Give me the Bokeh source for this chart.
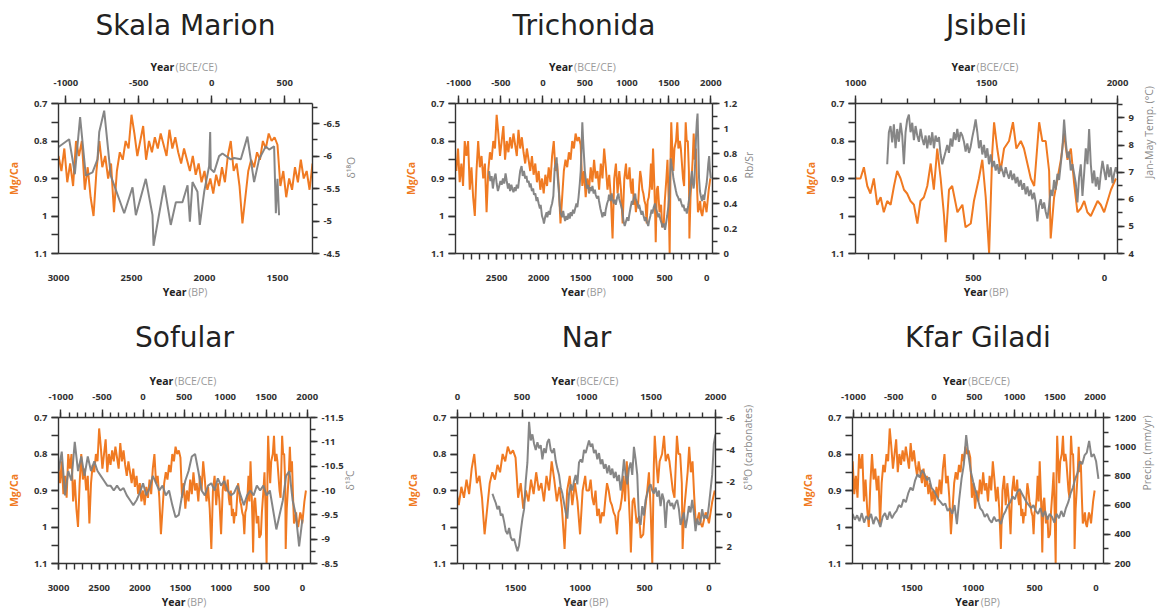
import math
import numpy as np
from bokeh.plotting import figure
from bokeh.models import Range1d, LinearAxis, FixedTicker, CustomJSTickFormatter, Title
from bokeh.layouts import column, row
from bokeh.embed import file_html
from bokeh.resources import INLINE

ORANGE = "#F07A22"
GRAY = "#7F7F7F"

# ---------------- Mg/Ca (orange) record, shared by all panels (years BP) ----------------
MGCA_BP = [3000, 2980, 2960, 2940, 2920, 2900, 2880, 2860, 2840, 2820, 2800, 2780, 2760, 2740, 2720,
           2700, 2680, 2660, 2640, 2620, 2600, 2580, 2560, 2540, 2520, 2500, 2480, 2460, 2440, 2420,
           2400, 2380, 2360, 2340, 2320, 2300, 2280, 2260, 2240, 2220, 2200, 2180, 2160, 2140, 2120,
           2100, 2080, 2060, 2040, 2020, 2000, 1980, 1960, 1940, 1920, 1900, 1880, 1860, 1840, 1820,
           1800, 1780, 1760, 1740, 1720, 1700, 1680, 1660, 1640, 1620, 1600, 1580, 1560, 1540, 1520,
           1500, 1480, 1460, 1440, 1420, 1400, 1380, 1360, 1340, 1320, 1300, 1280, 1260, 1240, 1220,
           1200, 1180, 1160, 1140, 1120, 1100, 1080, 1060, 1040, 1020, 1000, 980, 960,
           950, 931, 918, 905, 893, 880, 867, 854, 842, 829, 816, 803, 791, 778, 765, 753, 740, 727,
           714, 702, 689, 676, 663, 651, 638, 625, 612, 606, 593, 581, 561, 542, 530, 510, 498, 479,
           466, 453, 440, 428, 421, 409, 396, 383, 364, 349, 336, 319, 307, 294, 281, 268, 249, 237,
           224, 211, 205, 192, 179, 166, 154, 141, 128, 116, 103, 90, 77, 65, 52, 39, 26, 14, 1,
           -12, -25, -44]
MGCA = [0.84, 0.88, 0.82, 0.91, 0.86, 0.92, 0.80, 0.84, 0.80, 0.93, 0.87, 0.95, 1.00, 0.88, 0.80,
        0.87, 0.84, 0.90, 0.86, 0.99, 0.88, 0.83, 0.85, 0.80, 0.82, 0.73, 0.78, 0.84, 0.80, 0.76,
        0.85, 0.80, 0.83, 0.79, 0.82, 0.78, 0.81, 0.84, 0.77, 0.82, 0.79, 0.83, 0.86, 0.82, 0.85,
        0.88, 0.84, 0.89, 0.86, 0.91, 0.88, 0.93, 0.90, 0.94, 0.89, 0.92, 0.87, 0.91, 0.84, 0.80,
        0.88, 0.86, 0.92, 1.02, 0.95, 0.88, 0.85, 0.87, 0.83, 0.85, 0.80, 0.82, 0.78, 0.80, 0.79,
        0.81, 0.92, 0.88, 0.95, 0.90, 0.93, 0.87, 0.91, 0.85, 0.90, 0.88, 0.93, 0.86, 0.90, 0.82,
        0.87, 0.93, 0.89, 0.95, 1.06, 0.90, 0.86, 0.94, 0.88, 0.93, 1.02, 0.90, 0.86,
        0.90, 0.90, 0.87, 0.92, 0.94, 0.90, 0.97, 0.95, 0.99, 0.96, 0.97, 0.92, 0.88, 0.90, 0.93, 0.94, 0.96, 0.97,
        1.02, 0.96, 0.95, 0.92, 0.86, 0.93, 0.82, 0.90, 1.00, 1.07, 0.93, 0.92, 0.99, 0.97, 1.03, 1.02, 0.96, 0.90,
        0.85, 0.95, 1.10, 0.83, 0.75, 0.82, 0.88, 0.82, 0.80, 0.75, 0.82, 0.80, 0.82, 0.86, 0.90, 0.92, 0.75, 0.80,
        0.80, 0.88, 1.06, 0.95, 0.90, 0.85, 0.78, 0.85, 0.82, 0.91, 0.99, 0.98, 0.96, 0.99, 1.00, 0.98, 0.96, 0.97, 0.99,
        0.96, 0.93, 0.90]

# ---------------- Skala Marion delta18O ----------------
SKALA_BP = [3060, 3000, 2927, 2904, 2888, 2852, 2813, 2767, 2733, 2721, 2687, 2642, 2550, 2493, 2470,
            2402, 2356, 2349, 2276, 2231, 2196, 2151, 2116, 2100, 2082, 2048, 2032, 2002, 1968, 1961,
            1957, 1934, 1900, 1877, 1820, 1797, 1751, 1706, 1660, 1626, 1580, 1557, 1523, 1511, 1500, 1489]
SKALA_D18O = [-6.10, -6.14, -6.26, -5.95, -5.72, -6.60, -5.70, -5.75, -5.95, -6.37, -6.70, -5.70, -5.12,
              -5.52, -5.09, -5.65, -5.09, -4.62, -5.55, -4.94, -5.29, -5.29, -5.55, -4.99, -5.60, -5.45,
              -4.94, -5.45, -5.85, -6.37, -5.80, -5.75, -6.00, -6.04, -5.95, -5.97, -5.95, -6.30, -5.60,
              -5.95, -6.15, -6.10, -6.15, -5.12, -5.65, -5.09]

# ---------------- Trichonida Rb/Sr ----------------
TRICH_BP = [2590, 2575, 2560, 2545, 2530, 2513, 2500, 2485, 2473, 2455, 2440, 2425, 2410, 2394, 2380,
            2365, 2354, 2340, 2325, 2314, 2300, 2285, 2274, 2260, 2245, 2235, 2220, 2203, 2190, 2175,
            2160, 2145, 2135, 2120, 2105, 2096, 2080, 2065, 2056, 2040, 2025, 2016, 2000, 1985, 1976,
            1960, 1945, 1937, 1920, 1905, 1897, 1880, 1865, 1857, 1840, 1825, 1815, 1809, 1795, 1786,
            1775, 1758, 1748, 1738, 1720, 1708, 1698, 1685, 1670, 1658, 1645, 1630, 1619, 1605, 1590,
            1579, 1565, 1550, 1539, 1525, 1510, 1499, 1490, 1480, 1470, 1460, 1450, 1440, 1425, 1410,
            1400, 1385, 1370, 1360, 1345, 1330, 1321, 1305, 1290, 1281, 1265, 1250, 1241, 1225, 1210,
            1201, 1185, 1170, 1162, 1145, 1130, 1122, 1105, 1090, 1082, 1065, 1050, 1042, 1025, 1010,
            1003, 990, 975, 963, 945, 930, 923, 905, 890, 884, 865, 850, 844, 825, 810,
            804, 790, 775, 764, 750, 735, 725, 710, 695, 685, 670, 655, 645, 630, 615,
            605, 590, 575, 566, 550, 535, 526, 510, 495, 486, 470, 455, 446, 435, 427,
            415, 405, 395, 380, 365, 355, 340, 325, 315, 300, 285, 276, 260, 245, 236,
            220, 205, 196, 185, 175, 168, 155, 148, 135, 125, 117, 108, 100, 90, 80,
            69, 55, 40, 29, 15, 0, -10, -20, -30, -40, -50]
TRICH_RBSR = [0.66, 0.58, 0.62, 0.52, 0.60, 0.64, 0.56, 0.50, 0.53, 0.58, 0.55, 0.60, 0.56, 0.64, 0.58,
              0.52, 0.56, 0.50, 0.55, 0.52, 0.49, 0.53, 0.50, 0.55, 0.52, 0.58, 0.66, 0.70, 0.62, 0.66,
              0.60, 0.62, 0.57, 0.58, 0.53, 0.56, 0.50, 0.52, 0.47, 0.48, 0.42, 0.45, 0.40, 0.36, 0.39,
              0.30, 0.27, 0.24, 0.30, 0.33, 0.29, 0.34, 0.31, 0.36, 0.40, 0.46, 0.60, 0.68, 0.72, 0.77,
              0.62, 0.48, 0.38, 0.32, 0.29, 0.34, 0.30, 0.26, 0.30, 0.27, 0.32, 0.28, 0.33, 0.30, 0.35,
              0.32, 0.36, 0.40, 0.37, 0.45, 0.56, 0.66, 0.82, 1.05, 0.90, 0.78, 0.66, 0.60, 0.52, 0.55,
              0.48, 0.53, 0.50, 0.54, 0.48, 0.51, 0.47, 0.44, 0.46, 0.42, 0.36, 0.32, 0.29, 0.33, 0.30,
              0.35, 0.40, 0.43, 0.47, 0.42, 0.48, 0.44, 0.40, 0.43, 0.39, 0.45, 0.48, 0.44, 0.40, 0.36,
              0.34, 0.26, 0.22, 0.25, 0.29, 0.26, 0.30, 0.37, 0.42, 0.39, 0.45, 0.48, 0.44, 0.40, 0.36,
              0.39, 0.35, 0.31, 0.34, 0.30, 0.26, 0.29, 0.25, 0.22, 0.26, 0.30, 0.35, 0.32, 0.37, 0.40,
              0.36, 0.33, 0.29, 0.32, 0.27, 0.24, 0.21, 0.24, 0.19, 0.23, 0.30, 0.38, 0.45, 0.62, 0.76,
              0.70, 0.66, 0.60, 0.55, 0.50, 0.47, 0.45, 0.42, 0.44, 0.40, 0.37, 0.39, 0.34, 0.36, 0.32,
              0.38, 0.45, 0.50, 0.60, 0.66, 0.58, 0.52, 0.56, 0.75, 0.95, 1.05, 1.12, 0.90, 0.60, 0.50,
              0.46, 0.42, 0.47, 0.43, 0.50, 0.56, 0.63, 0.72, 0.78, 0.66, 0.60]

# ---------------- Jsibeli Jan-May temperature (evenly sampled, 829 -> -50 BP) ----------------
JSIB_START, JSIB_END = 829, -50
JSIB_TEMP = [7.29, 8.47, 8.70, 8.10, 8.76, 7.88, 8.59, 8.12, 8.82, 8.35, 7.29, 8.47, 8.94, 9.12, 8.47,
             8.82, 8.18, 8.70, 8.35, 8.12, 8.59, 8.24, 8.00, 8.35, 7.88, 8.35, 8.00, 8.47, 7.88, 8.35,
             8.12, 8.29, 7.65, 7.29, 7.53, 7.76, 8.00, 7.71, 8.24, 7.94, 8.47, 8.18, 8.59, 8.12, 8.47,
             8.35, 8.12, 7.76, 8.06, 7.71, 7.94, 8.29, 8.59, 8.94, 8.47, 7.88, 8.18, 7.65, 8.00, 7.53,
             7.88, 7.29, 7.65, 7.18, 7.41, 7.06, 7.29, 6.94, 7.24, 7.06, 6.82, 7.18, 6.94, 6.76, 7.06,
             6.71, 6.94, 6.59, 6.82, 6.47, 6.71, 6.35, 6.59, 6.18, 6.47, 6.12, 6.35, 6.00, 6.24, 5.88,
             5.18, 5.76, 6.00, 5.65, 5.88, 5.53, 5.29, 5.76, 6.35, 6.12, 6.71, 6.35, 6.94, 6.71, 7.29,
             7.88, 8.94, 8.12, 7.53, 7.76, 7.06, 7.29, 6.94, 6.59, 5.88, 6.82, 7.29, 6.12, 6.94, 7.88,
             7.29, 8.59, 7.29, 6.59, 7.06, 6.47, 6.82, 6.35, 6.94, 7.41, 7.06, 6.71, 7.29, 6.82, 7.18,
             6.59, 6.94, 7.18, 6.94]

# ---------------- Sofular delta13C (every 40 yr, 3000 -> 0 BP) ----------------
SOF_START, SOF_END = 3000, 0
SOF_D13C = [-10.4, -10.8, -9.9, -10.4, -10.2, -11.0, -10.4, -10.7, -10.3, -10.7, -10.4, -10.6, -10.4,
            -10.3, -10.2, -10.1, -10.1, -10.0, -10.1, -10.0, -10.05, -9.9, -9.8, -9.7, -9.8, -9.95,
            -10.15, -9.9, -10.05, -10.3, -10.15, -10.0, -10.1, -9.9, -10.0, -9.7, -9.45, -9.5, -9.9,
            -10.2, -10.4, -10.7, -10.75, -10.4, -10.0, -9.9, -10.1, -10.15, -10.0, -10.25, -10.1,
            -10.2, -10.0, -9.9, -9.95, -10.1, -9.9, -9.7, -9.9, -10.0, -9.9, -10.1, -10.0, -10.1,
            -9.9, -10.0, -9.6, -9.2, -9.5, -9.8, -10.3, -10.4, -9.8, -9.5, -8.85, -9.4]

# ---------------- Nar delta18O (evenly sampled, 1679 -> -50 BP) ----------------
NAR_START, NAR_END = 1679, -50
NAR_D18O = [-1.30, -1.00, -0.73, -0.35, -0.54, 0.04, -0.06, 0.42, 1.00, 1.19, 0.81, 1.38, 1.58, 1.48,
            1.87, 2.25, 1.87, 1.00, 0.23, -0.35, -2.08, -3.23, -5.73, -4.58, -4.96, -4.38, -4.00,
            -4.48, -4.10, -4.29, -3.42, -4.10, -3.81, -4.48, -4.67, -4.00, -3.81, -4.10, -3.33,
            -2.85, -2.46, -1.69, -1.31, -0.73, -0.15, 0.23, -1.31, -1.88, -1.50, -2.08, -2.46,
            -1.88, -3.23, -3.42, -3.23, -4.00, -3.81, -4.19, -4.58, -4.19, -4.38, -3.81, -4.00,
            -3.42, -3.81, -3.13, -3.42, -2.85, -3.13, -2.56, -3.04, -2.46, -2.85, -2.27, -2.65,
            -2.08, -2.46, -1.50, -2.27, -3.42, -2.46, -1.88, -2.85, -3.23, -2.46, -4.19, -3.42,
            -2.46, 0.23, 0.62, -0.54, 0.04, -0.92, -1.31, -1.69, -1.88, -1.50, -1.31, -1.69, -1.12,
            -1.50, -0.54, -1.31, -0.92, 0.81, -0.73, -0.92, -0.54, -0.73, -0.35, -0.73, -0.92,
            -0.35, 0.62, 0.23, -0.15, 0.81, 0.23, -0.54, -0.15, -0.92, -0.15, 1.00, 0.23, 0.62,
            0.42, -0.35, 0.23, 0.04, 0.23, -0.54, -1.50, -2.46, -4.38, -4.96]

# ---------------- Kfar Giladi precipitation (evenly sampled, 2962 -> -91 BP) ----------------
KFAR_START, KFAR_END = 2962, -91
KFAR_PRECIP = [540, 500, 530, 490, 545, 480, 525, 500, 540, 470, 520, 495, 450, 520, 545, 500, 555,
               510, 540, 560, 600, 585, 640, 620, 680, 720, 700, 770, 810, 790, 840, 815, 770, 790,
               720, 700, 670, 640, 620, 600, 610, 560, 580, 540, 600, 470, 640, 780, 880, 1080, 940,
               830, 760, 700, 640, 580, 560, 520, 540, 500, 480, 520, 490, 500, 470, 530, 560, 600,
               620, 660, 640, 690, 710, 680, 650, 620, 600, 580, 600, 560, 540, 580, 520, 560, 500,
               540, 520, 480, 540, 510, 560, 520, 580, 620, 680, 720, 780, 820, 900, 880, 940, 960,
               1040, 930, 950, 900, 780]

FONT = "Open Sans"
TICK_COLOR = "#333333"
UNIT_COLOR = "#9A9A9A"
JS_FMT = "return tick.toString();"
NB = "\u00a0"
TOP_YEAR = "Year" + NB * 17
TOP_UNIT = NB * 8 + "(BCE/CE)"
BOT_YEAR = "Year" + NB * 8
BOT_UNIT = NB * 9 + "(BP)"
UNIT_PULL = -17


def style_axis(ax, tick_out=7, minor_out=4, standoff=4):
    ax.axis_line_color = TICK_COLOR
    ax.axis_line_width = 1.4
    ax.major_tick_line_color = TICK_COLOR
    ax.major_tick_line_width = 1.4
    ax.minor_tick_line_color = TICK_COLOR
    ax.minor_tick_line_width = 1.4
    ax.major_tick_in = 0
    ax.minor_tick_in = 0
    ax.major_tick_out = tick_out
    ax.minor_tick_out = minor_out
    ax.major_label_standoff = standoff
    ax.major_label_text_font = FONT
    ax.major_label_text_font_size = "9.5px"
    ax.major_label_text_font_style = "bold"
    ax.major_label_text_color = TICK_COLOR
    ax.formatter = CustomJSTickFormatter(code=JS_FMT)
    ax.axis_label_text_font = FONT
    ax.axis_label_text_font_size = "10.5px"
    ax.axis_label_text_font_style = "bold"
    ax.axis_label_text_color = "#222222"


def unit_axis(range_name, text):
    # label-only companion axis: puts the grey unit text on the same line as "Year"
    kw = {"x_range_name": range_name} if range_name else {}
    ax = LinearAxis(ticker=FixedTicker(ticks=[], minor_ticks=[]), **kw)
    ax.axis_line_color = None
    ax.major_tick_line_color = None
    ax.minor_tick_line_color = None
    ax.major_tick_out = 0
    ax.minor_tick_out = 0
    ax.major_label_standoff = 0
    ax.major_label_text_font_size = "1px"
    ax.axis_label = text
    ax.axis_label_text_font = FONT
    ax.axis_label_text_font_size = "10.5px"
    ax.axis_label_text_font_style = "normal"
    ax.axis_label_text_color = UNIT_COLOR
    ax.axis_label_standoff = UNIT_PULL
    return ax


def steps(a, b, s):
    out = []
    v = a
    while v <= b + 1e-9:
        out.append(round(v, 6))
        v += s
    return out


def panel(title, W, H, fl, ft, fw, fh, spacer, x_main, x_top, top_major, top_minor,
          bot_range, bot_major, bot_minor, bot_tick_out,
          y2, y2_major, y2_minor, y2_label, y2_standoff, gx, gy):
    p = figure(width=W, height=H, x_range=Range1d(*x_main), y_range=Range1d(1.1, 0.7),
               x_axis_location=None, y_axis_location=None,
               min_border_left=fl, min_border_top=ft,
               min_border_right=W - fl - fw, min_border_bottom=H - ft - fh,
               output_backend="svg", toolbar_location=None)
    p.grid.visible = False
    p.outline_line_color = None
    p.background_fill_color = "white"
    p.border_fill_color = "white"

    p.extra_x_ranges = {"top": Range1d(*x_top)}
    if bot_range is not None:
        p.extra_x_ranges["bot"] = Range1d(*bot_range)
    p.extra_y_ranges = {"r": Range1d(*y2)}

    left = LinearAxis(ticker=FixedTicker(ticks=[0.7, 0.8, 0.9, 1.0, 1.1],
                                         minor_ticks=steps(0.7, 1.1, 0.05)))
    style_axis(left, tick_out=7, minor_out=7, standoff=4)
    left.axis_label = "Mg/Ca"
    left.axis_label_text_color = ORANGE
    left.axis_label_standoff = 10
    p.add_layout(left, "left")

    right = LinearAxis(y_range_name="r", ticker=FixedTicker(ticks=y2_major, minor_ticks=y2_minor))
    style_axis(right, tick_out=7, minor_out=5, standoff=4)
    right.axis_label = y2_label
    right.axis_label_text_color = "#8A8A8A"
    right.axis_label_text_font_style = "normal"
    right.axis_label_standoff = y2_standoff
    right.axis_label_orientation = math.pi / 2
    p.add_layout(right, "right")

    # top: axis (inner), unit label, spacer, title (outer)
    top = LinearAxis(x_range_name="top", ticker=FixedTicker(ticks=top_major, minor_ticks=top_minor))
    style_axis(top, tick_out=8, minor_out=5, standoff=10)
    top.axis_label = TOP_YEAR
    top.axis_label_standoff = 3
    p.add_layout(top, "above")
    p.add_layout(unit_axis("top", TOP_UNIT), "above")
    p.add_layout(Title(text=" ", text_font_size="2px", standoff=spacer), "above")
    p.add_layout(Title(text=title, align="center", text_font="DejaVu Sans", text_font_size="28px",
                       text_font_style="normal", text_color="#222222", standoff=0), "above")

    if bot_range is not None:
        bot = LinearAxis(x_range_name="bot", ticker=FixedTicker(ticks=bot_major, minor_ticks=bot_minor))
    else:
        bot = LinearAxis(ticker=FixedTicker(ticks=bot_major, minor_ticks=bot_minor))
    style_axis(bot, tick_out=bot_tick_out, minor_out=bot_tick_out, standoff=21 - bot_tick_out)
    bot.axis_label = BOT_YEAR
    bot.axis_label_standoff = 1
    p.add_layout(bot, "below")
    p.add_layout(unit_axis("bot" if bot_range is not None else None, BOT_UNIT), "below")

    p.line(MGCA_BP, MGCA, line_color=ORANGE, line_width=2)
    p.line(gx, gy, y_range_name="r", line_color=GRAY, line_width=2, line_alpha=0.95)
    return p


p1 = panel("Skala Marion", 388, 305, 58, 103, 254, 153, 11,
           (3000, 1260), (-1050, 690), [-1000, -500, 0, 500], steps(-1000, 600, 100),
           None, [3000, 2500, 2000, 1500], [], 0,
           (-4.5, -6.81), [-6.5, -6, -5.5, -5, -4.5], steps(-6.75, -4.5, 0.25), "δ¹⁸O", 8,
           SKALA_BP, SKALA_D18O)

p2 = panel("Trichonida", 388, 305, 67, 103, 257, 152, 11,
           (2990, -70), (-1040, 2020), [-1000, -500, 0, 500, 1000, 1500, 2000], steps(-1000, 2000, 100),
           None, [3000, 2500, 2000, 1500, 1000, 500, 0], steps(0, 2900, 100), 6,
           (0, 1.2), [0, 0.2, 0.4, 0.6, 0.8, 1.0, 1.2], steps(0, 1.2, 0.1), "Rb/Sr", 9,
           TRICH_BP, TRICH_RBSR)

p3 = panel("Jsibeli", 389, 305, 79, 103, 262, 150, 11,
           (950, -50), (1000, 2000), [1000, 1500, 2000], steps(1000, 2000, 100),
           None, [500, 0], steps(0, 900, 100), 6,
           (4, 9.53), [4, 5, 6, 7, 8, 9], steps(4, 9.5, 0.5), "Jan-May Temp. (°C)", 12,
           list(np.linspace(JSIB_START, JSIB_END, len(JSIB_TEMP))), JSIB_TEMP)

p4 = panel("Sofular", 388, 306, 58, 112, 252, 149, 13,
           (3000, -100), (-1030, 2040), [-1000, -500, 0, 500, 1000, 1500, 2000], steps(-1000, 2000, 100),
           None, [3000, 2500, 2000, 1500, 1000, 500, 0], steps(0, 3000, 100), 6,
           (-8.5, -11.5), [-11.5, -11, -10.5, -10, -9.5, -9, -8.5], steps(-11.5, -8.5, 0.25), "δ¹³C", 3,
           list(np.linspace(SOF_START, SOF_END, len(SOF_D13C))), SOF_D13C)

p5 = panel("Nar", 388, 306, 69, 112, 258, 147, 13,
           (1950, -50), (0, 2000), [0, 500, 1000, 1500, 2000], steps(0, 2000, 100),
           None, [1500, 1000, 500, 0], steps(0, 1900, 100), 6,
           (3, -6), [-6, -4, -2, 0, 2], steps(-6, 3, 1), "δ¹⁸O (carbonates)", 10,
           list(np.linspace(NAR_START, NAR_END, len(NAR_D18O))), NAR_D18O)

p6 = panel("Kfar Giladi", 389, 306, 76, 112, 251, 150, 13,
           (2962, -154), (-1012, 2104), [-1000, -500, 0, 500, 1000, 1500, 2000], steps(-1000, 2100, 100),
           (1984, -62), [1500, 1000, 500, 0], steps(0, 1900, 100), 6,
           (200, 1200), [200, 400, 600, 800, 1000, 1200], steps(200, 1200, 100), "Precip. (mm/yr)", 8,
           list(np.linspace(KFAR_START, KFAR_END, len(KFAR_PRECIP))), KFAR_PRECIP)

layout = column(row(p1, p2, p3, spacing=0), row(p4, p5, p6, spacing=0), spacing=0)

open("out.html", "w").write(file_html(layout, INLINE))
